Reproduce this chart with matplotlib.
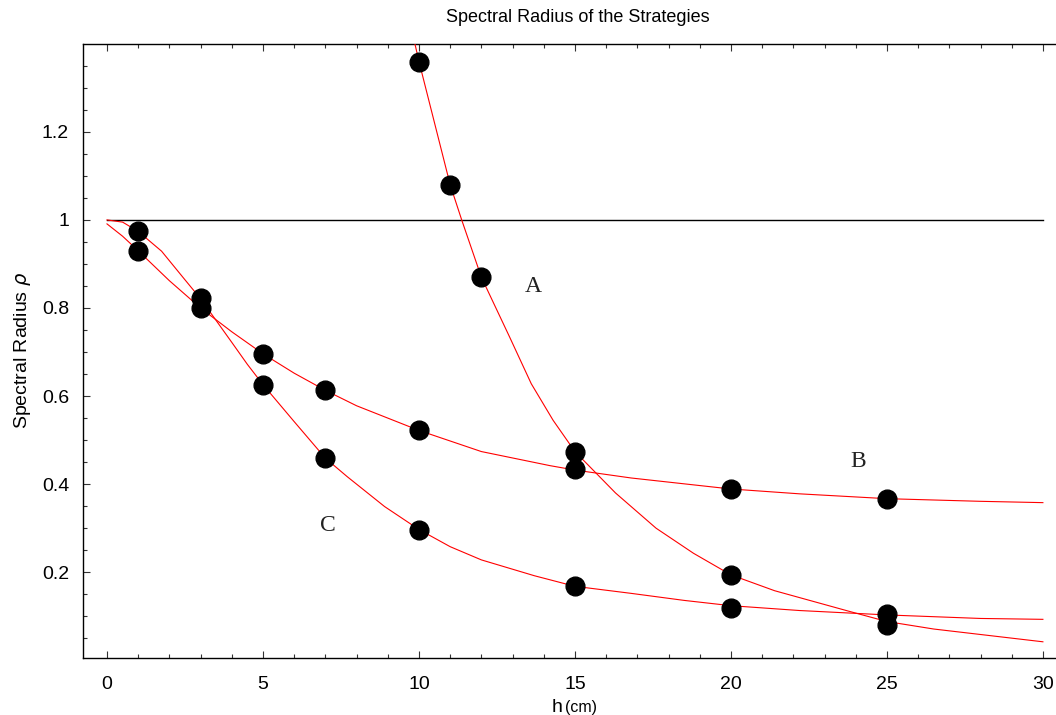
import matplotlib
matplotlib.use("Agg")
import matplotlib.pyplot as plt
from matplotlib.ticker import MultipleLocator, FormatStrFormatter

# ---- data ----
# measured points (h in cm, spectral radius)
a_h = [10, 11, 12, 15, 20, 25]
a_rho = [1.358, 1.080, 0.870, 0.472, 0.194, 0.080]
b_h = [1, 3, 5, 7, 10, 15, 20, 25]
b_rho = [0.930, 0.800, 0.696, 0.613, 0.522, 0.434, 0.389, 0.367]
c_h = [1, 3, 5, 7, 10, 15, 20, 25]
c_rho = [0.975, 0.822, 0.626, 0.459, 0.297, 0.168, 0.118, 0.105]

# red curves
curve_a_h = [9.87, 10.0, 10.5, 11.0, 11.37, 12.0, 12.9, 13.6, 14.3, 15.0, 16.3,
             17.6, 18.8, 20.0, 21.4, 23.8, 25.0, 26.5, 30.0]
curve_a_rho = [1.40, 1.36, 1.22, 1.08, 1.00, 0.870, 0.735, 0.628, 0.545, 0.474, 0.380,
               0.300, 0.243, 0.194, 0.158, 0.111, 0.088, 0.071, 0.042]
curve_b_h = [0.0, 0.5, 1.0, 2.0, 3.0, 4.0, 5.0, 6.0, 7.0, 8.0, 10.0,
             12.0, 14.2, 15.0, 16.8, 20.0, 22.2, 25.0, 28.0, 30.0]
curve_b_rho = [0.991, 0.963, 0.930, 0.862, 0.800, 0.746, 0.696, 0.652,
               0.613, 0.578, 0.522, 0.474, 0.442, 0.432, 0.414, 0.389, 0.378, 0.367,
               0.361, 0.358]
curve_c_h = [0.0, 0.5, 1.0, 1.75, 2.5, 3.0, 4.0, 4.5, 5.0, 6.0, 7.0, 7.7,
             8.9, 10.0, 11.0, 12.0, 13.7, 15.0, 16.8, 18.5, 20.0, 22.2, 25.0, 28.0, 30.0]
curve_c_rho = [1.0, 0.995, 0.974, 0.929, 0.864, 0.821, 0.722, 0.672, 0.626,
               0.542, 0.459, 0.417, 0.349, 0.297, 0.258, 0.228, 0.192, 0.168,
               0.152, 0.136, 0.124, 0.113, 0.103, 0.095, 0.093]

ref_h = [0, 30]
ref_rho = [1, 1]

labels = ["A", "B", "C"]
label_h = [13.65, 24.07, 7.08]
label_rho = [0.848, 0.451, 0.307]

title = "Spectral Radius of the Strategies"

# ---- figure ----
W, H = 1056, 715
fig = plt.figure(figsize=(W / 100, H / 100), dpi=100)
ax = fig.add_axes([83 / W, 1 - 658 / H, (W - 83) / W, (658 - 44) / H])

ax.plot(ref_h, ref_rho, color="black", lw=1.0, zorder=2)
for xs, ys in [(curve_a_h, curve_a_rho), (curve_b_h, curve_b_rho), (curve_c_h, curve_c_rho)]:
    ax.plot(xs, ys, color="#ff0000", lw=0.8, zorder=3)
for xs, ys in [(a_h, a_rho), (b_h, b_rho), (c_h, c_rho)]:
    ax.plot(xs, ys, linestyle="none", marker="o", markersize=13.5,
            color="black", zorder=4)

for t, x, y in zip(labels, label_h, label_rho):
    ax.text(x, y, t, family="Liberation Serif", fontsize=17, ha="center", va="center",
            color="#222222")

ax.set_xlim(-0.769, 30.42)
ax.set_ylim(0.0052, 1.3995)

ax.xaxis.set_major_locator(MultipleLocator(5))
ax.xaxis.set_minor_locator(MultipleLocator(1))
ax.yaxis.set_major_locator(MultipleLocator(0.2))
ax.yaxis.set_minor_locator(MultipleLocator(0.05))
ax.xaxis.set_major_formatter(FormatStrFormatter("%g"))
ax.yaxis.set_major_formatter(FormatStrFormatter("%g"))

ax.spines["right"].set_visible(False)
for s in ["left", "bottom", "top"]:
    ax.spines[s].set_linewidth(1.0)
ax.tick_params(axis="both", which="both", direction="in", top=True, right=False,
               labelfontfamily="Liberation Sans", labelsize=14, width=0.8, color="#333333")
ax.tick_params(axis="both", which="major", length=5)
ax.tick_params(axis="both", which="minor", length=3)
ax.tick_params(axis="x", which="both", pad=13)
ax.tick_params(axis="y", which="both", pad=10)

fig.text(578 / W, 1 - 18 / H, title, family="Liberation Sans", fontsize=13,
         ha="center", va="center")
fig.text(22.5 / W, 1 - 350 / H, r"Spectral Radius $\rho$", family="Liberation Sans",
         fontsize=14, rotation=90, ha="center", va="center")
fig.text(552 / W, 1 - 712 / H, "h", family="Liberation Sans", fontsize=14,
         ha="left", va="baseline")
fig.text(565 / W, 1 - 712 / H, "(cm)", family="Liberation Sans", fontsize=11.5,
         ha="left", va="baseline")

fig.savefig("out.png", dpi=100)
